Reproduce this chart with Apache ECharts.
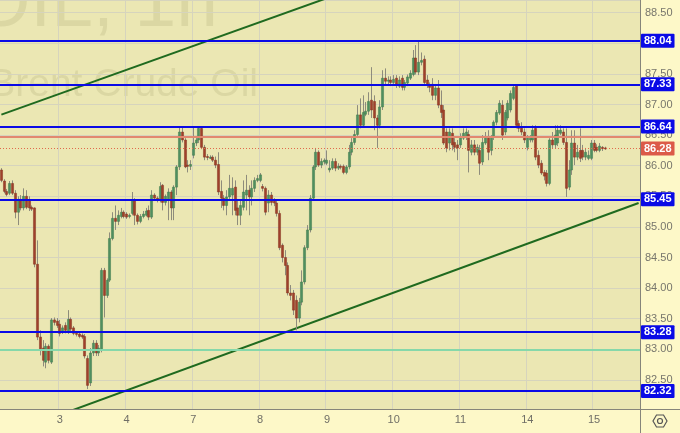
<!DOCTYPE html>
<html><head><meta charset="utf-8">
<script src="https://cdn.jsdelivr.net/npm/echarts@6/dist/echarts.min.js"></script>
<style>html,body{margin:0;padding:0;background:#fdf8c8;}#c{width:680px;height:433px;}</style>
</head><body><div id="c"></div><script>
// Day labels on the time axis
const dayLabels = ['2','3','4','7','8','9','10','11','14','15'];
const firstHour = 3;       // first visible hour of day 2
const futureSlots = 12;    // empty hourly slots right of the last candle

// Hourly candles per day: [open, close, low, high]
const d02 = [
[85.93,85.76,85.73,85.96],[85.75,85.58,85.55,85.78],[85.58,85.53,85.50,85.62],[85.55,85.71,85.52,85.75],
[85.71,85.55,85.52,85.76],[85.55,85.24,85.14,85.60],[85.24,85.45,85.03,85.50],[85.45,85.31,85.27,85.52],
[85.31,85.50,85.27,85.63],[85.50,85.32,85.29,85.60],[85.44,85.31,85.26,85.50],[85.32,85.29,85.26,85.35],
[85.31,84.39,84.34,85.32],[84.39,83.20,83.15,84.78],[83.20,82.99,82.90,83.31],[83.02,82.82,82.72,83.15],
[82.79,83.05,82.69,83.10],[83.05,82.82,82.77,83.08],[82.79,83.48,82.76,83.51],[83.48,83.44,83.39,83.52],
[83.46,83.39,83.35,83.51]];
const d03 = [
[83.41,83.26,83.21,83.48],[83.28,83.35,83.25,83.39],[83.39,83.31,83.26,83.44],[83.28,83.49,83.25,83.64],
[83.49,83.33,83.28,83.52],[83.35,83.26,83.23,83.38],[83.26,83.25,83.21,83.30],[83.25,83.21,83.18,83.28],
[83.23,83.20,83.17,83.26],[83.21,82.89,82.85,83.25],[82.85,82.41,82.35,82.90],[82.45,82.94,82.40,83.02],
[82.94,83.10,82.89,83.15],[83.10,82.94,82.89,83.15],[82.94,83.02,82.89,83.07],[82.99,84.29,82.95,84.33],
[84.29,83.88,83.52,84.33],[83.88,84.13,83.84,84.16],[84.13,84.81,84.10,84.91],[84.81,85.14,84.78,85.24],
[85.14,85.09,84.95,85.35],[85.09,85.19,85.03,85.27],[85.17,85.24,85.14,85.31],[85.24,85.17,85.14,85.27]];
const d04 = [
[85.21,85.16,85.13,85.24],[85.17,85.19,85.14,85.22],[85.22,85.44,85.19,85.57],[85.44,85.19,85.03,85.47],
[85.19,85.09,85.04,85.22],[85.09,85.17,85.06,85.21],[85.17,85.21,85.14,85.26],[85.19,85.26,85.17,85.31],
[85.27,85.16,85.11,85.35],[85.16,85.52,85.13,85.60],[85.52,85.47,85.44,85.55],[85.47,85.44,85.40,85.50],
[85.44,85.66,85.40,85.73],[85.68,85.40,85.27,85.70],[85.40,85.50,85.35,85.53],[85.44,85.57,85.11,85.63],
[85.57,85.31,85.11,85.60],[85.31,85.65,85.11,85.68],[85.65,85.98,85.52,86.01],[85.98,86.55,85.93,86.62],
[86.55,86.42,86.38,86.62],[86.42,85.98,85.96,86.45],[86.01,85.99,85.89,86.09],[85.99,86.02,85.93,86.09]];
const d07 = [
[86.17,86.37,86.12,86.63],[86.37,86.42,86.32,86.47],[86.42,86.61,86.37,86.63],[86.61,86.30,86.27,86.64],
[86.30,86.14,86.09,86.34],[86.15,86.14,86.09,86.19],[86.12,86.14,86.11,86.17],[86.14,86.09,86.06,86.17],
[86.09,86.01,85.96,86.15],[86.02,85.57,85.52,86.22],[85.58,85.47,85.31,85.76],[85.47,85.35,85.27,85.52],
[85.35,85.49,85.19,85.60],[85.49,85.63,85.44,85.85],[85.52,85.63,85.19,85.81],[85.65,85.27,85.19,85.76],
[85.31,85.19,85.03,85.44],[85.19,85.35,85.03,85.44],[85.32,85.57,85.27,85.76],[85.52,85.60,85.27,85.85],
[85.60,85.49,85.19,85.68],[85.49,85.63,85.35,85.76],[85.63,85.76,85.57,85.81],[85.76,85.79,85.73,85.85]];
const d08 = [
[85.76,85.85,85.73,85.88],[85.66,85.63,85.58,85.70],[85.63,85.24,85.19,85.66],[85.39,85.52,85.24,85.60],
[85.52,85.40,85.35,85.57],[85.44,85.39,85.34,85.47],[85.39,85.22,85.17,85.44],[85.22,84.66,84.62,85.27],
[84.70,84.50,84.42,84.73],[84.50,84.37,84.21,84.62],[84.37,83.92,83.88,84.42],[83.92,83.88,83.80,84.05],
[83.92,83.64,83.56,83.97],[83.80,83.51,83.31,83.88],[83.51,83.77,83.44,83.84],[83.77,84.10,83.72,84.29],
[84.10,84.66,84.06,84.70],[84.66,84.95,84.62,85.03],[84.95,85.47,84.91,85.52],[85.47,85.98,85.44,86.01],
[85.98,86.22,85.93,86.29],[86.22,86.01,85.98,86.25],[86.01,86.07,85.96,86.12],[86.06,86.09,86.02,86.12]];
const d09 = [
[86.04,86.09,86.01,86.25],[85.93,85.96,85.89,86.09],[85.96,86.07,85.93,86.12],[86.07,85.96,85.91,86.12],
[85.96,85.99,85.93,86.04],[85.99,85.98,85.94,86.02],[85.99,85.89,85.86,86.02],[85.89,85.98,85.86,86.01],
[85.98,86.22,85.94,86.34],[86.22,86.38,86.17,86.45],[86.38,86.51,86.34,86.58],[86.51,86.83,86.48,86.99],
[86.83,86.66,86.61,87.10],[86.66,86.87,86.63,87.15],[86.84,86.89,86.81,87.04],[86.89,87.05,86.83,87.20],
[87.07,86.91,86.78,87.61],[87.05,86.78,86.58,87.15],[86.78,86.66,86.29,86.83],[86.66,86.96,86.61,87.07],
[86.96,87.43,86.91,87.56],[87.43,87.38,87.33,87.59],[87.38,87.40,87.33,87.46],[87.40,87.36,87.30,87.46]];
const d10 = [
[87.36,87.41,87.31,87.48],[87.43,87.33,87.27,87.48],[87.30,87.40,87.27,87.46],[87.43,87.28,87.23,87.48],
[87.28,87.36,87.23,87.40],[87.35,87.45,87.30,87.49],[87.43,87.51,87.40,87.56],[87.49,87.76,87.46,87.89],
[87.76,87.53,87.49,87.97],[87.53,87.69,87.48,88.05],[87.69,87.72,87.64,87.85],[87.74,87.36,87.31,87.80],
[87.40,87.31,87.27,87.48],[87.31,87.28,87.20,87.36],[87.33,87.15,87.07,87.43],[87.15,87.27,87.07,87.31],
[87.27,86.99,86.94,87.40],[86.99,86.87,86.78,87.23],[86.91,86.37,86.34,86.99],[86.55,86.29,86.22,86.61],
[86.37,86.55,86.25,86.61],[86.53,86.34,86.25,86.61],[86.38,86.30,86.22,86.45],[86.34,86.29,86.09,86.42]];
const d11 = [
[86.34,86.47,86.29,86.53],[86.45,86.53,86.42,86.61],[86.47,86.55,86.42,86.61],[86.51,86.25,85.89,86.58],
[86.22,86.34,86.17,86.42],[86.34,86.22,86.17,86.42],[86.22,86.30,86.17,86.35],[86.25,86.04,85.85,86.34],
[86.06,86.38,86.01,86.50],[86.37,86.47,86.34,86.55],[86.45,86.22,86.09,86.58],[86.25,86.47,86.17,86.50],
[86.47,86.71,86.42,86.74],[86.71,86.87,86.66,86.91],[86.86,87.02,86.83,87.07],[86.99,86.50,86.42,87.07],
[86.55,86.87,86.50,86.91],[86.78,87.02,86.74,87.07],[86.91,87.18,86.87,87.23],[87.10,87.28,87.07,87.31],
[87.30,86.66,86.61,87.31],[86.69,86.61,86.55,86.74],[86.64,86.55,86.50,86.71],[86.55,86.42,86.37,86.61]];
const d14 = [
[86.30,86.45,86.25,86.50],[86.42,86.47,86.38,86.50],[86.42,86.58,86.38,86.66],[86.61,86.14,86.09,86.66],
[86.17,86.01,85.96,86.25],[86.04,85.88,85.85,86.09],[85.89,85.83,85.76,85.93],[85.88,85.71,85.66,85.93],
[85.71,86.42,85.68,86.45],[86.42,86.34,86.29,86.55],[86.34,86.50,86.29,86.66],[86.37,86.58,86.32,86.66],
[86.53,86.58,86.50,86.66],[86.55,86.38,86.34,86.61],[86.38,85.63,85.49,86.61],[85.65,85.93,85.60,86.09],
[85.93,86.37,85.85,86.58],[86.37,86.14,86.01,86.58],[86.14,86.22,86.09,86.34],[86.25,86.12,86.06,86.61],
[86.25,86.14,86.09,86.34],[86.14,86.22,86.09,86.29],[86.12,86.17,86.09,86.25],[86.12,86.37,86.09,86.42]];
const d15 = [
[86.37,86.25,86.22,86.42],[86.30,86.25,86.22,86.35],[86.25,86.32,86.22,86.37],[86.30,86.28,86.24,86.32],
[86.29,86.28,86.26,86.31]];

// Drawn levels and lines
const blueLevels = [88.04, 87.33, 86.64, 85.45, 83.28, 82.32];
const lastPrice = 86.28;
const salmonLevel = 86.48;
const mintLevel = 82.99;
const upperTrend = [86.835, 90.56];  // value at first / last slot
const lowerTrend = [81.58, 85.39];
const yMin = 82.0245, yMax = 88.7075;
const watermark1 = 'UKOIL, 1h';
const watermark2 = 'Brent Crude Oil';

const days = [d02,d03,d04,d07,d08,d09,d10,d11,d14,d15];
const cats = [], candles = [];
days.forEach((d, k) => {
  d.forEach((c, h) => {
    const hour = k === 0 ? firstHour + h : h;
    cats.push(dayLabels[k] + '|' + hour);
    candles.push([cats.length - 1, c[0], c[1], c[2], c[3]]);
  });
});
for (let j = 0; j < futureSlots; j++) cats.push('f|' + j);
const lastIdx = cats.length - 1;
const isDayStart = (i, v) => /\|0$/.test(v) && v[0] !== 'f';

const G = '#4f8f5f', GB = '#3f7a4d', R = '#9f402b', RB = '#85331f', WICK = '#8e8c7c';

const chart = echarts.init(document.getElementById('c'), null, {renderer: 'canvas'});
const lvlLabel = (bg) => ({
  show: true, position: 'end', distance: 1, formatter: p => p.value.toFixed(2),
  backgroundColor: bg, color: '#fff', fontWeight: 'bold', fontSize: 11,
  fontFamily: 'Liberation Sans, Arial, sans-serif', padding: [2, 3, 1, 3], borderRadius: 1
});
chart.setOption({
  animation: false,
  backgroundColor: '#fdf8c8',
  grid: {left: 0, right: 40, top: 0, bottom: 24, show: false},
  graphic: [
    {type: 'rect', z: -20, shape: {x: 0, y: 0, width: 640, height: 409}, style: {fill: '#ebe7b3'}, silent: true},
    {type: 'text', z: -10, style: {text: watermark1, x: 218, y: -32, align: 'right', verticalAlign: 'top',
      font: '75px "Liberation Sans", Arial, sans-serif', fill: 'rgba(90,90,40,0.11)'}},
    {type: 'text', z: -10, style: {text: watermark2, x: 258, y: 66, align: 'right', verticalAlign: 'top',
      font: '39px "Liberation Sans", Arial, sans-serif', fill: 'rgba(90,90,40,0.11)'}},
    {type: 'line', z: 50, shape: {x1: 640.5, y1: 0, x2: 640.5, y2: 433}, style: {stroke: '#86857a', lineWidth: 1}},
    {type: 'line', z: 50, shape: {x1: 0, y1: 409.5, x2: 680, y2: 409.5}, style: {stroke: '#86857a', lineWidth: 1}},
    {type: 'polygon', z: 50, shape: {points: [[667,421],[663.5,427],[656.5,427],[653,421],[656.5,415],[663.5,415]]},
      style: {fill: 'none', stroke: '#555', lineWidth: 1.2}},
    {type: 'circle', z: 50, shape: {cx: 660, cy: 421, r: 2.5}, style: {fill: 'none', stroke: '#555', lineWidth: 1.2}}
  ],
  xAxis: {
    type: 'category', data: cats, boundaryGap: true,
    axisLine: {show: false}, axisTick: {show: false},
    axisLabel: {interval: isDayStart, formatter: v => v.split('|')[0], color: '#6f6e66', fontSize: 11,
      margin: 5, fontFamily: 'Liberation Sans, Arial, sans-serif'},
    splitLine: {show: true, interval: isDayStart, lineStyle: {color: '#d6d4bd', width: 1}}
  },
  yAxis: {
    type: 'value', position: 'right', min: yMin, max: yMax, splitNumber: 13, scale: true,
    axisLine: {show: false}, axisTick: {show: false},
    axisLabel: {formatter: v => v.toFixed(2), color: '#77766c', fontSize: 11, margin: 5,
      showMinLabel: false, showMaxLabel: false, fontFamily: 'Liberation Sans, Arial, sans-serif'},
    splitLine: {show: true, lineStyle: {color: '#d6d4bd', width: 1}}
  },
  series: [
    {
      type: 'line', z: 3, showSymbol: false, silent: true, clip: true,
      data: [[0, upperTrend[0]], [lastIdx, upperTrend[1]]],
      lineStyle: {color: '#1f6a1f', width: 2}
    },
    {
      type: 'line', z: 3, showSymbol: false, silent: true, clip: true,
      data: [[0, lowerTrend[0]], [lastIdx, lowerTrend[1]]],
      lineStyle: {color: '#1f6a1f', width: 2}
    },
    {
      type: 'custom', z: 4, clip: true,
      encode: {x: 0, y: [1, 2, 3, 4]},
      data: candles,
      renderItem: (params, api) => {
        const i = api.value(0), o = api.value(1), c = api.value(2), l = api.value(3), h = api.value(4);
        const pO = api.coord([i, o]), pC = api.coord([i, c]), pL = api.coord([i, l]), pH = api.coord([i, h]);
        const w = 2.1;
        const up = c >= o;
        const top = Math.min(pO[1], pC[1]), bot = Math.max(pO[1], pC[1]);
        const xc = Math.round(pO[0] - 0.5) + 0.5;
        return {type: 'group', children: [
          {type: 'line', shape: {x1: xc, y1: pH[1], x2: xc, y2: pL[1]}, style: {stroke: WICK, lineWidth: 1}},
          {type: 'rect', shape: {x: xc - w / 2, y: top, width: w, height: Math.max(bot - top, 1)},
            style: {fill: up ? G : R, stroke: up ? GB : RB, lineWidth: 0.5}}
        ]};
      }
    },
    {
      type: 'line', z: 6, data: [], silent: true,
      markLine: {
        silent: true, symbol: ['none', 'none'], precision: 2,
        data: [
          {yAxis: salmonLevel, lineStyle: {color: '#e2886f', width: 2, type: 'solid'}, label: {show: false}},
          {yAxis: mintLevel, lineStyle: {color: '#86d8aa', width: 2, type: 'solid'}, label: {show: false}},
          {yAxis: lastPrice, lineStyle: {color: '#e06a4c', width: 1, type: [1, 2]}, label: lvlLabel('#dc5a48')}
        ].concat(blueLevels.map(v => ({yAxis: v, lineStyle: {color: '#0a0ae6', width: 2, type: 'solid'}, label: lvlLabel('#0a0ae6')})))
      }
    }
  ]
});
</script></body></html>
